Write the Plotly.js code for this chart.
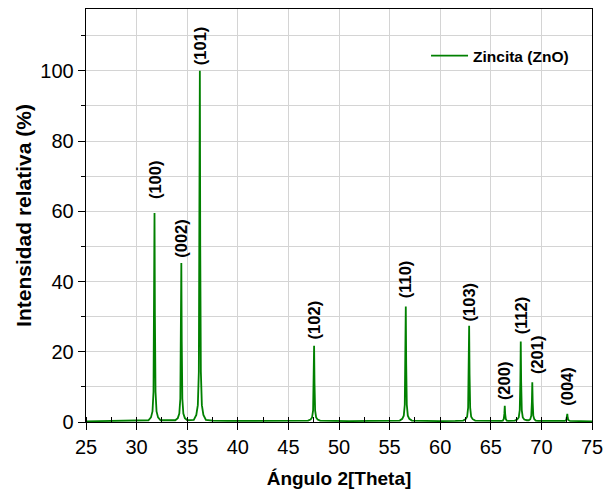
<!DOCTYPE html>
<html>
<head>
<meta charset="utf-8">
<script src="https://cdn.plot.ly/plotly-3.0.1.min.js"></script>
<style>
  html, body { margin: 0; padding: 0; background: #fff; }
  #chart { width: 614px; height: 499px; }
</style>
</head>
<body>
<div id="chart"></div>
<script>
// XRD pattern of zincite (ZnO): 2θ angle vs. relative intensity (%)
const twoTheta = [
  25.00, 26.00, 27.00, 28.00, 29.00, 30.00, 30.60,
  31.17, 31.42, 31.57, 31.67, 31.73, 31.77, 31.81, 31.87, 31.97, 32.12, 32.37,
  33.10,
  33.82, 34.07, 34.22, 34.32, 34.38, 34.42, 34.46, 34.52, 34.62, 34.77, 35.02,
  35.30,
  35.65, 35.90, 36.05, 36.15, 36.21, 36.25, 36.29, 36.35, 36.45, 36.60, 36.85,
  37.50, 39.00, 41.00, 43.00, 45.00, 46.20,
  46.94, 47.19, 47.34, 47.44, 47.50, 47.54, 47.58, 47.64, 47.74, 47.89, 48.14,
  49.00, 51.00, 53.00, 55.00,
  56.00, 56.25, 56.40, 56.50, 56.56, 56.60, 56.64, 56.70, 56.80, 56.95, 57.20,
  58.50, 60.00, 61.50,
  62.26, 62.51, 62.66, 62.76, 62.82, 62.86, 62.90, 62.96, 63.06, 63.21, 63.46,
  64.50, 65.50,
  66.03, 66.18, 66.28, 66.34, 66.38, 66.42, 66.48, 66.58, 66.73,
  67.36, 67.61, 67.76, 67.86, 67.92, 67.96, 68.00, 68.06, 68.16, 68.31, 68.56,
  68.75, 68.90, 69.00, 69.06, 69.10, 69.14, 69.20, 69.30, 69.45, 69.70,
  71.00,
  72.31, 72.46, 72.52, 72.56, 72.60, 72.66, 72.81,
  74.00, 75.00
];
const intensity = [
  0.20, 0.25, 0.20, 0.30, 0.25, 0.30, 0.35,
  0.50, 1.30, 3.00, 8.60, 30.0, 59.5, 30.0, 8.60, 3.00, 1.30, 0.50,
  0.40,
  0.50, 1.10, 2.40, 6.60, 23.0, 45.3, 23.0, 6.60, 2.40, 1.10, 0.50,
  0.50,
  0.60, 2.00, 4.80, 14.3, 50.0, 100.0, 50.0, 14.3, 4.80, 2.00, 0.60,
  0.40, 0.30, 0.30, 0.25, 0.30, 0.35,
  0.40, 0.70, 1.30, 3.30, 11.0, 21.7, 11.0, 3.30, 1.30, 0.70, 0.40,
  0.30, 0.25, 0.30, 0.30,
  0.40, 0.90, 1.80, 4.90, 16.5, 32.9, 16.5, 4.90, 1.80, 0.90, 0.40,
  0.30, 0.25, 0.30,
  0.40, 0.80, 1.50, 4.10, 13.7, 27.4, 13.7, 4.10, 1.50, 0.80, 0.40,
  0.30, 0.30,
  0.30, 0.40, 0.90, 2.30, 4.60, 2.30, 0.90, 0.40, 0.30,
  0.40, 0.70, 1.30, 3.40, 11.5, 22.9, 11.5, 3.40, 1.30, 0.70, 0.50,
  0.50, 0.80, 1.80, 5.70, 11.3, 5.70, 1.80, 0.80, 0.40, 0.30,
  0.30,
  0.30, 0.60, 1.20, 2.30, 1.20, 0.60, 0.30,
  0.25, 0.20
];

// Miller indices of the indexed reflections, with their peak positions and heights
const planes = ['(100)', '(002)', '(101)', '(102)', '(110)', '(103)', '(200)', '(112)', '(201)', '(004)'];
const peakPos = [31.77, 34.42, 36.25, 47.54, 56.60, 62.86, 66.38, 67.96, 69.10, 72.56];
const peakHeight = [59.5, 45.3, 100.0, 21.7, 32.9, 27.4, 4.6, 22.9, 11.3, 2.3];

const FONT = 'Liberation Sans, Arial, sans-serif';
const GREEN = '#008000';
const GRID = '#d4d4d4';

// per-label offsets (px) so the labels sit clear of their peaks
const labelYShift = [12, 3, 4, 4, 6, 2, 4, 5, 6, 6];
const labelXShift = [0, 0, 0, 0, 0, 0, 0, 0, 5, 0];

const annotations = planes.map((p, i) => ({
  x: peakPos[i],
  y: peakHeight[i],
  xref: 'x', yref: 'y',
  text: p,
  textangle: -90,
  showarrow: false,
  xanchor: 'center',
  yanchor: 'bottom',
  xshift: labelXShift[i],
  yshift: labelYShift[i],
  font: { family: FONT, size: 16.5, color: '#000', weight: 'bold' }
}));

const trace = {
  x: twoTheta,
  y: intensity,
  type: 'scatter',
  mode: 'lines',
  name: 'Zincita (ZnO)',
  line: { color: GREEN, width: 1.8 }
};

const layout = {
  width: 614,
  height: 499,
  margin: { l: 86, r: 22, t: 9, b: 77 },
  paper_bgcolor: '#fff',
  plot_bgcolor: '#fff',
  font: { family: FONT, color: '#000' },
  showlegend: true,
  legend: {
    x: 0.672, y: 0.886, xanchor: 'left', yanchor: 'middle',
    itemwidth: 37,
    bgcolor: 'rgba(0,0,0,0)',
    font: { family: FONT, size: 15.5, color: '#000', weight: 'bold' }
  },
  xaxis: {
    range: [25, 75],
    tick0: 25, dtick: 5,
    ticks: 'outside', ticklen: 7, tickwidth: 1, tickcolor: '#000',
    showline: true, linecolor: '#000', linewidth: 1.3, mirror: true,
    showgrid: true, gridcolor: GRID, gridwidth: 1,
    zeroline: false,
    tickfont: { family: FONT, size: 20, color: '#000' },
    minor: { dtick: 2.5, ticks: 'inside', ticklen: 5, tickcolor: '#000', showgrid: false },
    title: { text: 'Ángulo 2[Theta]', standoff: 14, font: { family: FONT, size: 19, color: '#000', weight: 'bold' } }
  },
  yaxis: {
    range: [0, 117.6],
    tick0: 0, dtick: 20,
    ticks: 'outside', ticklen: 7, tickwidth: 1, tickcolor: '#000',
    showline: true, linecolor: '#000', linewidth: 1.3, mirror: true,
    showgrid: true, gridcolor: GRID, gridwidth: 1,
    zeroline: false,
    tickfont: { family: FONT, size: 20, color: '#000' },
    minor: { dtick: 10, ticks: 'outside', ticklen: 4, tickcolor: '#000', showgrid: true, gridcolor: GRID, gridwidth: 1 },
    title: { text: 'Intensidad relativa (%)', standoff: 3, font: { family: FONT, size: 21, color: '#000', weight: 'bold' } }
  },
  annotations: annotations
};

Plotly.newPlot('chart', [trace], layout, { displayModeBar: false, staticPlot: true });
</script>
</body>
</html>
